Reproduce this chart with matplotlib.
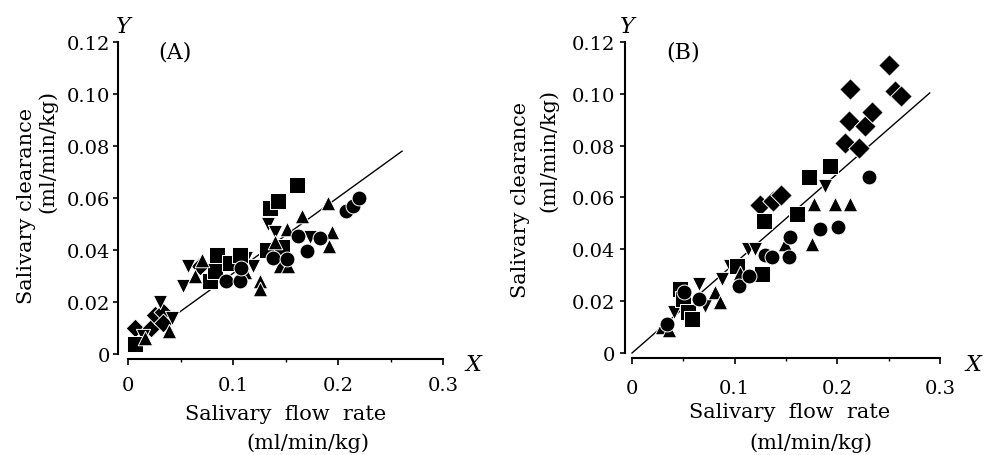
import numpy as np
import matplotlib
matplotlib.use('Agg')
import matplotlib.pyplot as plt
from matplotlib.ticker import FixedLocator

# ---------------- data: panel A ----------------
sq_a_x = [0.007, 0.078, 0.083, 0.085, 0.097, 0.107, 0.132, 0.147, 0.135, 0.143, 0.161]
sq_a_y = [0.004, 0.028, 0.032, 0.038, 0.035, 0.038, 0.040, 0.041, 0.056, 0.059, 0.065]
ci_a_x = [0.093, 0.107, 0.108, 0.138, 0.151, 0.162, 0.170, 0.183, 0.208, 0.214, 0.220]
ci_a_y = [0.028, 0.028, 0.033, 0.037, 0.0365, 0.0455, 0.0395, 0.0445, 0.055, 0.057, 0.060]
tu_a_x = [0.016, 0.039, 0.064, 0.070, 0.111, 0.126, 0.126, 0.145, 0.152, 0.140, 0.151, 0.166, 0.190, 0.194, 0.191]
tu_a_y = [0.006, 0.009, 0.030, 0.036, 0.0315, 0.028, 0.025, 0.034, 0.034, 0.043, 0.048, 0.053, 0.058, 0.047, 0.0415]
td_a_x = [0.014, 0.030, 0.042, 0.052, 0.057, 0.112, 0.119, 0.133, 0.140, 0.173]
td_a_y = [0.007, 0.020, 0.014, 0.026, 0.034, 0.037, 0.034, 0.050, 0.047, 0.045]
di_a_x = [0.007, 0.022, 0.026, 0.033, 0.033, 0.069]
di_a_y = [0.010, 0.010, 0.015, 0.016, 0.012, 0.034]
fit_a_intercept, fit_a_slope, fit_a_xrange = 0.0018, 0.292, [0.003, 0.261]

# ---------------- data: panel B ----------------
sq_b_x = [0.047, 0.050, 0.055, 0.058, 0.102, 0.127, 0.129, 0.161, 0.172, 0.193]
sq_b_y = [0.0247, 0.021, 0.0158, 0.013, 0.0336, 0.0305, 0.051, 0.0536, 0.068, 0.072]
ci_b_x = [0.034, 0.051, 0.065, 0.104, 0.114, 0.130, 0.136, 0.153, 0.154, 0.183, 0.201, 0.231]
ci_b_y = [0.011, 0.0235, 0.021, 0.026, 0.0297, 0.038, 0.037, 0.037, 0.0447, 0.048, 0.0486, 0.068]
tu_b_x = [0.029, 0.036, 0.081, 0.086, 0.105, 0.149, 0.175, 0.177, 0.198, 0.212]
tu_b_y = [0.010, 0.009, 0.0235, 0.0197, 0.031, 0.042, 0.042, 0.0575, 0.0575, 0.0575]
td_b_x = [0.041, 0.065, 0.071, 0.088, 0.095, 0.113, 0.120, 0.188]
td_b_y = [0.016, 0.0266, 0.018, 0.0285, 0.0336, 0.040, 0.040, 0.0645]
di_b_x = [0.125, 0.137, 0.145, 0.207, 0.211, 0.212, 0.221, 0.227, 0.234, 0.250, 0.256, 0.262]
di_b_y = [0.057, 0.0585, 0.061, 0.081, 0.0895, 0.102, 0.079, 0.0877, 0.093, 0.111, 0.101, 0.099]
fit_b_intercept, fit_b_slope, fit_b_xrange = 0.0, 0.346, [0.0, 0.29]

# ---------------- ticks / labels ----------------
x_ticks = [0, 0.1, 0.2, 0.3]
x_tick_labels = ['0', '0.1', '0.2', '0.3']
x_minor = [0.05, 0.15, 0.25]
y_ticks = [0, 0.02, 0.04, 0.06, 0.08, 0.10, 0.12]
y_tick_labels = ['0', '0.02', '0.04', '0.06', '0.08', '0.10', '0.12']

plt.rcParams['font.family'] = ['DejaVu Serif']

fig = plt.figure(figsize=(9.84, 4.56), dpi=100)
axA = fig.add_axes([0.1301, 0.2215, 0.3201, 0.6842])
axB = fig.add_axes([0.6423, 0.2237, 0.3130, 0.6820])


def style(ax, left_off, bottom_off, xpad, ypad):
    ax.set_xlim(0, 0.3)
    ax.set_ylim(0, 0.12)
    ax.patch.set_visible(False)
    for s in ['top', 'right']:
        ax.spines[s].set_visible(False)
    ax.spines['left'].set_position(('outward', left_off))
    ax.spines['bottom'].set_position(('outward', bottom_off))
    ax.spines['left'].set_linewidth(1.5)
    ax.spines['bottom'].set_linewidth(1.5)
    ax.set_xticks(x_ticks)
    ax.set_xticklabels(x_tick_labels)
    ax.set_yticks(y_ticks)
    ax.set_yticklabels(y_tick_labels)
    ax.xaxis.set_minor_locator(FixedLocator(x_minor))
    ax.yaxis.set_minor_locator(FixedLocator([0.12]))
    ax.tick_params(axis='x', which='major', direction='out', length=4, width=1.2,
                   pad=xpad, labelsize=14)
    ax.tick_params(axis='x', which='minor', direction='out', length=2.5, width=1.0)
    ax.tick_params(axis='y', which='major', direction='out', length=3.6, width=1.2,
                   pad=ypad, labelsize=14)
    ax.tick_params(axis='y', which='minor', direction='in', length=3.6, width=1.2)


def draw(ax, groups, fit, dsize):
    b, m, xr = fit
    xs = np.array(xr)
    ax.plot(xs, b + m * xs, color='black', lw=1.0, zorder=1, clip_on=False)
    markers = {'s': 125, 'o': 115, '^': 110, 'v': 105, 'D': dsize}
    for mk, xs_, ys_ in groups:
        ax.scatter(xs_, ys_, marker=mk, s=markers[mk], c='black', edgecolors='white',
                   linewidths=0.7, zorder=3, clip_on=False)


draw(axA, [('D', di_a_x, di_a_y), ('v', td_a_x, td_a_y), ('s', sq_a_x, sq_a_y),
           ('^', tu_a_x, tu_a_y), ('o', ci_a_x, ci_a_y)],
     (fit_a_intercept, fit_a_slope, fit_a_xrange), 92)
draw(axB, [('D', di_b_x, di_b_y), ('v', td_b_x, td_b_y), ('s', sq_b_x, sq_b_y),
           ('^', tu_b_x, tu_b_y), ('o', ci_b_x, ci_b_y)],
     (fit_b_intercept, fit_b_slope, fit_b_xrange), 120)

style(axA, 7.2, 3.6, 8.0, 2.2)
style(axB, 5.0, 3.6, 11.0, 3.6)

lab = dict(fontsize=15, ha='center', va='center')
# panel A labels
fig.text(27 / 984, 1 - 206 / 456, 'Salivary clearance', rotation=90, **lab)
fig.text(48 / 984, 1 - 152 / 456, '(ml/min/kg)', rotation=90, **lab)
fig.text(286 / 984, 1 - 415 / 456, 'Salivary  flow  rate', **lab)
fig.text(308 / 984, 1 - 443 / 456, '(ml/min/kg)', **lab)
fig.text(175 / 984, 1 - 53 / 456, '(A)', fontsize=16, ha='center', va='center')
fig.text(123 / 984, 1 - 27 / 456, 'Y', fontsize=16, style='italic', ha='center', va='center')
fig.text(473 / 984, 1 - 365 / 456, 'X', fontsize=16, style='italic', ha='center', va='center')
# panel B labels
fig.text(520 / 984, 1 - 200 / 456, 'Salivary clearance', rotation=90, **lab)
fig.text(549 / 984, 1 - 150 / 456, '(ml/min/kg)', rotation=90, **lab)
fig.text(790 / 984, 1 - 413 / 456, 'Salivary  flow  rate', **lab)
fig.text(811 / 984, 1 - 443 / 456, '(ml/min/kg)', **lab)
fig.text(683 / 984, 1 - 52 / 456, '(B)', fontsize=16, ha='center', va='center')
fig.text(627 / 984, 1 - 27 / 456, 'Y', fontsize=16, style='italic', ha='center', va='center')
fig.text(981 / 984, 1 - 365 / 456, 'X', fontsize=16, style='italic', ha='right', va='center')

fig.savefig('out.png', dpi=100)
